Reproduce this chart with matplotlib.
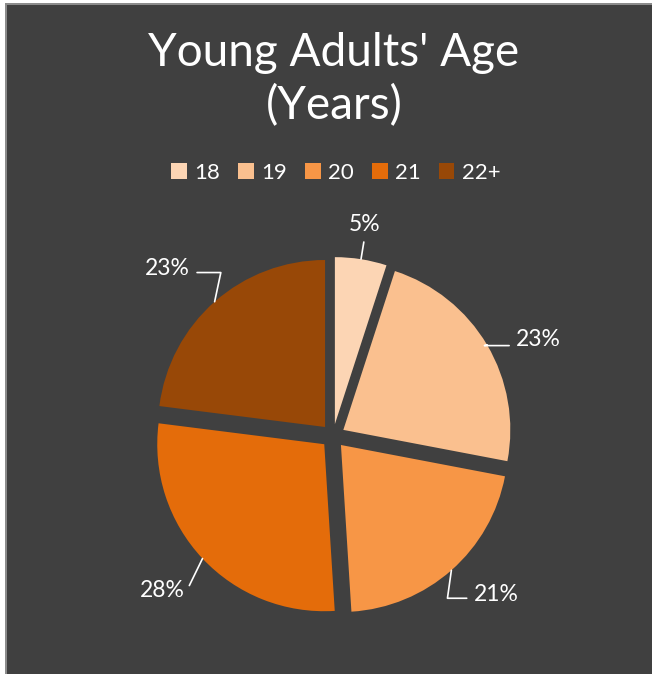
import numpy as np
import matplotlib
matplotlib.use("Agg")
import matplotlib.pyplot as plt
from matplotlib.patches import Rectangle

# age groups and their share of the sample (percent)
ages = ["18", "19", "20", "21", "22+"]
shares = [5, 23, 21, 28, 23]
colors = ["#FCD5B4", "#FAC08F", "#F79646", "#E46C0A", "#984807"]

BG = "#404040"
W, H = 652, 674

# pie geometry in pixel-like data units
cx, cy, R = 333, H - 436, 167
explode_px = 12

# label placement: distance (in radii) and angle nudge from slice middle
label_dist = [1.28, 1.36, 1.36, 1.38, 1.41]
label_shift = [0.4, -5.4, 4.5, -1.0, 3.2]
# leader line: angle of the elbow leg, text anchor used by the line
leader_angle = [90, 15, 82, -120, 78]
leader_rel = [(0.5, 0.0), (0.0, 0.2), (0.0, 0.3), (1.0, 0.3), (1.0, 0.3)]
leader_conn = ["arc3", "angle", "angle", "arc3", "angle"]

fig = plt.figure(figsize=(W / 100, H / 100), dpi=100, facecolor=BG)
ax = fig.add_axes([0, 0, 1, 1])
ax.set_facecolor(BG)

# pie's explode offset is in data units, so pixels here
wedges, _ = ax.pie(shares, colors=colors, startangle=90, counterclock=False,
                   radius=R, center=(cx, cy),
                   explode=[explode_px] * len(shares),
                   wedgeprops=dict(linewidth=0))
ax.set_xlim(0, W)
ax.set_ylim(0, H)
ax.set_aspect("equal")
ax.axis("off")

lab_font = dict(family=["Lato", "DejaVu Sans"], size=16.5, color="white")

for i, w in enumerate(wedges):
    mid = np.deg2rad((w.theta1 + w.theta2) / 2)
    ox, oy = w.center
    p0 = (ox + w.r * np.cos(mid), oy + w.r * np.sin(mid))
    ang = mid + np.deg2rad(label_shift[i])
    tx = cx + label_dist[i] * R * np.cos(ang)
    ty = cy + label_dist[i] * R * np.sin(ang)
    if leader_conn[i] == "angle":
        conn = "angle,angleA=0,angleB=%d,rad=0" % leader_angle[i]
    else:
        conn = "arc3,rad=0"
    ax.annotate("%d%%" % shares[i], xy=p0, xytext=(tx, ty),
                ha="center", va="center", **lab_font,
                arrowprops=dict(arrowstyle="-", color="white", lw=1.2,
                                shrinkA=3, shrinkB=0, relpos=leader_rel[i],
                                connectionstyle=conn))

# title
title_font = dict(family=["Lato", "DejaVu Sans"], weight="normal",
                  size=33, color="white", ha="center", va="center")
fig.text(334 / W, 1 - 53 / H, "Young Adults' Age", **title_font)
fig.text(334 / W, 1 - 106 / H, "(Years)", **title_font)

leg = ax.legend(wedges, ages, ncol=5, loc="center",
                bbox_to_anchor=(336 / W, 1 - 173 / H),
                bbox_transform=fig.transFigure, frameon=False,
                handlelength=0.7, handleheight=0.7, handletextpad=0.35,
                columnspacing=0.8,
                prop=dict(family=["Lato", "DejaVu Sans"], size=16))
for t in leg.get_texts():
    t.set_color("white")

# thin frame on top and left edges
fig.patches.append(Rectangle((0, 0), 5 / W, 1, transform=fig.transFigure,
                             facecolor="white", edgecolor="none"))
fig.patches.append(Rectangle((5 / W, 0), 2 / W, 1 - 3 / H, transform=fig.transFigure,
                             facecolor="#8c8c8c", edgecolor="none"))
fig.patches.append(Rectangle((0, 1 - 3 / H), 1, 3 / H, transform=fig.transFigure,
                             facecolor="white", edgecolor="none"))
fig.patches.append(Rectangle((5 / W, 1 - 5 / H), 1, 2 / H, transform=fig.transFigure,
                             facecolor="#8c8c8c", edgecolor="none"))

fig.savefig("out.png", dpi=100, facecolor=BG)
